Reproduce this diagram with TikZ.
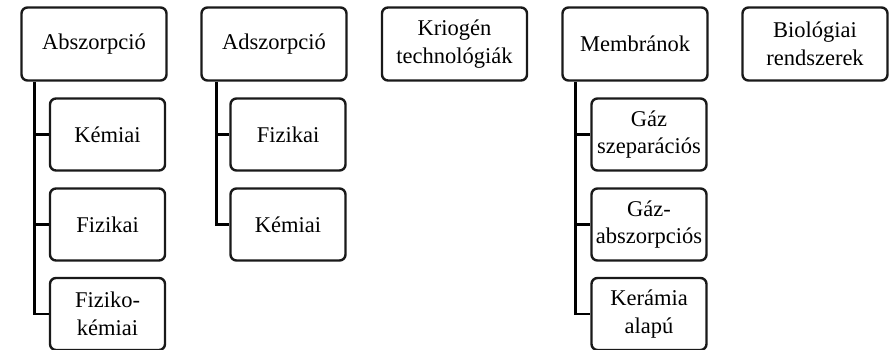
\documentclass[tikz,border=0pt]{standalone}
\usepackage{fontspec}
\setmainfont{Liberation Serif}
\begin{document}
\begin{tikzpicture}[x=1pt,y=-1pt,
  box/.style={draw=black!90, line width=2.4pt, rounded corners=6pt, align=center,
    font=\fontsize{22.5}{27.5}\selectfont, text=black, inner sep=0pt},
  topbox/.style={box, minimum width=145pt, minimum height=73pt},
  subbox/.style={box, minimum width=115pt, minimum height=72pt},
  link/.style={line width=2.6pt, black}]
\useasboundingbox (0,0) rectangle (890,350);

% category boxes
\node[topbox] (abs) at (94,44)    {Abszorpció};
\node[topbox] (ads) at (274,44)   {Adszorpció};
\node[topbox] (kri) at (454.5,44) {Kriogén\\technológiák};
\node[topbox] (mem) at (635,44)   {Membránok};
\node[topbox] (bio) at (815,44)   {Biológiai\\rendszerek};

% sub-boxes
\node[subbox] (abs1) at (107.5,134.5) {Kémiai};
\node[subbox] (abs2) at (107.5,224.5) {Fizikai};
\node[subbox] (abs3) at (107.5,314)   {Fiziko-\\kémiai};

\node[subbox] (ads1) at (288,134.5) {Fizikai};
\node[subbox] (ads2) at (288,224.5) {Kémiai};

\node[subbox] (mem1) at (649,134.5) {Gáz\\szeparációs};
\node[subbox] (mem2) at (649,224.5) {Gáz-\\abszorpciós};
\node[subbox] (mem3) at (649,314)   {Kerámia\\alapú};

% tree connectors
\coordinate (absr) at ([xshift=14pt]abs.south west);
\coordinate (adsr) at ([xshift=16pt]ads.south west);
\coordinate (memr) at ([xshift=14pt]mem.south west);

\draw[link] (absr) |- (abs1.west) (absr) |- (abs2.west) (absr) |- (abs3.west);
\draw[link] (adsr) |- (ads1.west) (adsr) |- (ads2.west);
\draw[link] (memr) |- (mem1.west) (memr) |- (mem2.west) (memr) |- (mem3.west);
\end{tikzpicture}
\end{document}
